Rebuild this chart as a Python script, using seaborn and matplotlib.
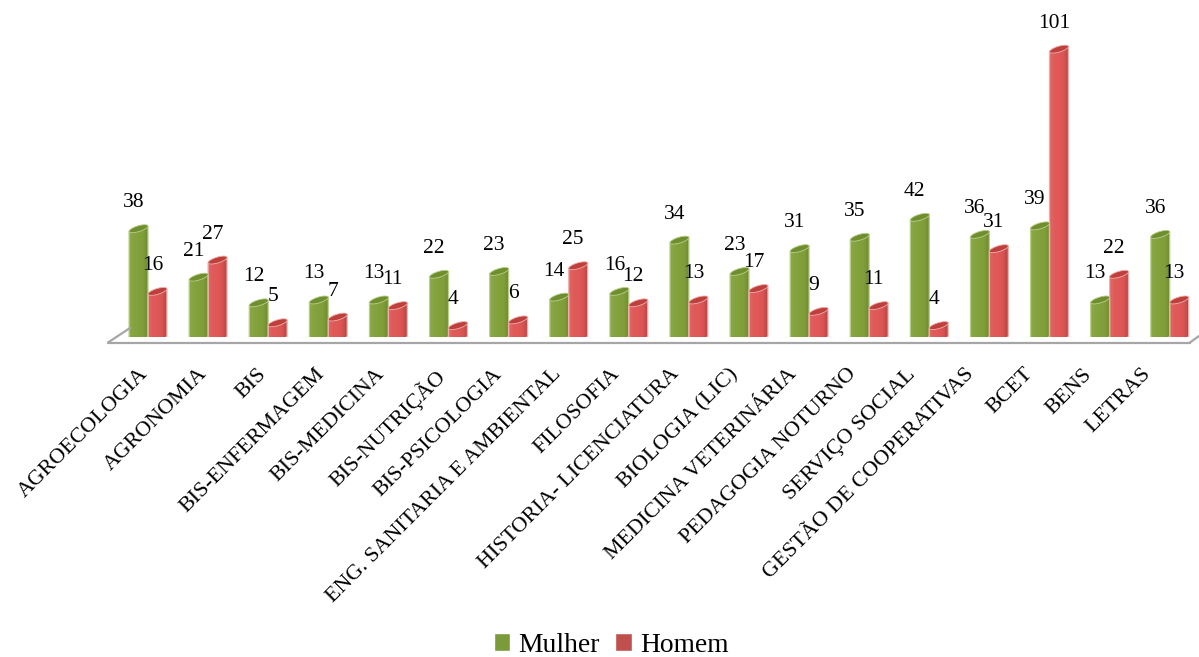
import matplotlib
matplotlib.use("Agg")
import matplotlib.pyplot as plt
from matplotlib.colors import LinearSegmentedColormap
from matplotlib.lines import Line2D
from matplotlib.patches import Polygon
import numpy as np
import pandas as pd
import seaborn as sns

courses = ["AGROECOLOGIA", "AGRONOMIA", "BIS", "BIS-ENFERMAGEM", "BIS-MEDICINA",
           "BIS-NUTRIÇÃO", "BIS-PSICOLOGIA", "ENG. SANITARIA E AMBIENTAL", "FILOSOFIA",
           "HISTORIA- LICENCIATURA", "BIOLOGIA (LIC)", "MEDICINA VETERINÁRIA",
           "PEDAGOGIA NOTURNO", "SERVIÇO SOCIAL", "GESTÃO DE COOPERATIVAS",
           "BCET", "BENS", "LETRAS"]
mulher = [38, 21, 12, 13, 13, 22, 23, 14, 16, 34, 23, 31, 35, 42, 36, 39, 13, 36]
homem = [16, 27, 5, 7, 11, 4, 6, 25, 12, 13, 17, 9, 11, 4, 31, 101, 22, 13]

W, H = 1199, 657
BASE_Y = 337
PX_PER_UNIT = 2.85
CENTER0, STEP = 148.0, 60.1

sns.set_theme(style="white")
plt.rcParams["font.family"] = ["Liberation Serif", "DejaVu Serif"]

df = pd.DataFrame({
    "curso": courses * 2,
    "sexo": ["Mulher"] * len(courses) + ["Homem"] * len(courses),
    "n": mulher + homem,
})

fig = plt.figure(figsize=(W / 100, H / 100), dpi=100, facecolor="white")
left = CENTER0 - STEP / 2
ax = fig.add_axes([left / W, 1 - BASE_Y / H, STEP * 18 / W, BASE_Y / H])
sns.barplot(data=df, x="curso", y="n", hue="sexo", order=courses,
            hue_order=["Mulher", "Homem"], width=0.63, ax=ax,
            palette={"Mulher": "#7B9B3A", "Homem": "#C0504D"}, saturation=1)
xlim = (-0.5, 17.5)
ylim = (0, BASE_Y / PX_PER_UNIT)
ax.set_xlim(xlim)
ax.set_ylim(ylim)

px_y = 1 / PX_PER_UNIT
ry, tilt = 3.0 * px_y, 2.6 * px_y

# horizontal shading of each cylinder, plus cap and rim colours
styles = [
    (["#8BA84A", "#85A440", "#82A13D", "#7F9E3A", "#6E8C2E"], "#6F8F2F", "#B9CF8C"),
    (["#E06562", "#DF5B5A", "#DE5958", "#D95452", "#B54644"], "#BF3F3C", "#EBB0AD"),
]

t = np.linspace(0, np.pi, 40)
t_full = np.linspace(0, 2 * np.pi, 60)
for container, (shades, cap, edge) in zip(ax.containers, styles):
    cmap = LinearSegmentedColormap.from_list("cyl", shades)
    for bar in container:
        bar.set_visible(False)
        x0, w, h = bar.get_x(), bar.get_width(), bar.get_height()
        xc = x0 + w / 2
        a = w / 2
        ex = xc + a * np.cos(t)
        top_arc = h + tilt * np.cos(t)
        low_arc = tilt * 0.45 * np.cos(t) - ry * np.sin(t)
        outline = np.column_stack([
            np.r_[ex, ex[::-1]],
            np.r_[top_arc, low_arc[::-1]],
        ])
        body = Polygon(outline, closed=True, fc="none", ec=edge, lw=0.9, zorder=3)
        ax.add_patch(body)
        img = ax.imshow(np.linspace(0, 1, 64)[None, :], extent=(x0, x0 + w, -ry * 2, h + ry * 3),
                        aspect="auto", cmap=cmap, zorder=2.9, interpolation="bilinear")
        img.set_clip_path(body)
        # elliptical cap closing the top of the cylinder
        cap_xy = np.column_stack([
            xc + a * np.cos(t_full),
            h + tilt * np.cos(t_full) + ry * np.sin(t_full),
        ])
        ax.add_patch(Polygon(cap_xy, closed=True, fc=cap, ec=edge, lw=0.6, zorder=3.1))
        ax.annotate(f"{int(h)}", (xc, h), xytext=(-5, 26), textcoords="offset pixels",
                    ha="center", va="center", fontsize=15.5, color="black", zorder=5)
ax.set_xlim(xlim)
ax.set_ylim(ylim)

# floor of the chart
for xs, ys in [([108, 1190], [342.5, 342.5]), ([108, 130], [342.5, 328]), ([1190, 1199], [342.5, 336])]:
    fig.add_artist(Line2D(np.array(xs) / W, 1 - np.array(ys) / H,
                          color="#A6A6A6", lw=1.6, transform=fig.transFigure))

ax.set_xlabel("")
ax.set_ylabel("")
ax.set_yticks([])
ax.set_xticks(np.arange(len(courses)) * 0.982 - 0.16)
ax.set_xticklabels(courses, rotation=45, ha="right", rotation_mode="anchor",
                   fontsize=15.8, color="black")
ax.tick_params(axis="x", length=0, pad=20)
sns.despine(ax=ax, left=True, bottom=True, top=True, right=True)
ax.patch.set_alpha(0)

handles, labels = ax.get_legend_handles_labels()
ax.get_legend().remove()
fig.legend(handles, labels, loc="center", bbox_to_anchor=(611 / W, 1 - 645 / H),
           ncol=2, frameon=False, fontsize=19.8, handlelength=0.6, handleheight=0.6,
           handletextpad=0.3, columnspacing=0.55, borderpad=0, labelcolor="black")

fig.savefig("out.png", dpi=100, facecolor="white")
